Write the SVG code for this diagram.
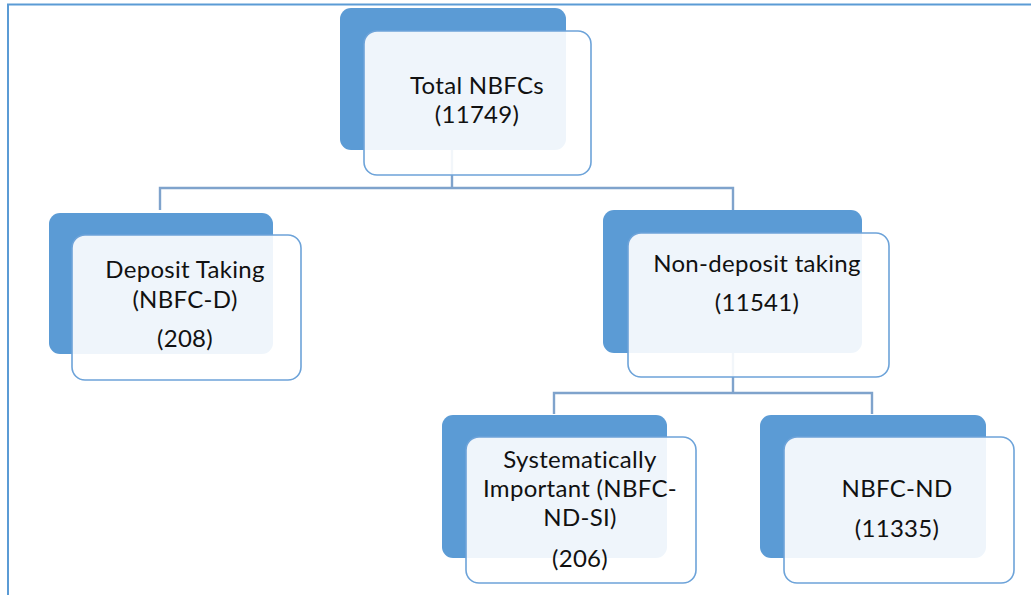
<svg xmlns="http://www.w3.org/2000/svg" width="1031" height="595" viewBox="0 0 1031 595">
  <style>
    .frame { fill: none; stroke: #5B9BD5; stroke-width: 2; }
    .conn { fill: none; stroke: #7FA3CC; stroke-width: 2.4; }
    .back { fill: #5B9BD5; }
    .front { fill: #FFFFFF; fill-opacity: 0.9; stroke: #6DA3D9; stroke-width: 1.6; }
    .lbl { font-family: "Lato", "Liberation Sans", sans-serif; font-size: 24px; letter-spacing: 0.3px; fill: #111111; text-anchor: middle; }
  </style>
  <rect width="1031" height="595" fill="#FFFFFF"/>
  <path class="frame" d="M8,596 V4.5 H1032"/>
  <g id="connectors">
    <path class="conn" d="M452,150 V188 M160,210 V188 H733 V210"/>
    <path class="conn" d="M733,353 V393 M554,414 V393 H872 V414"/>
  </g>
  <g id="total">
    <rect class="back" x="340" y="8" width="226" height="142" rx="11"/>
    <rect class="front" x="364" y="31" width="227" height="144" rx="13"/>
    <text class="lbl" x="477" y="94">Total NBFCs</text>
    <text class="lbl" x="477" y="123">(11749)</text>
  </g>
  <g id="deposit">
    <rect class="back" x="49" y="213" width="224" height="141" rx="11"/>
    <rect class="front" x="72" y="235" width="229" height="145" rx="13"/>
    <text class="lbl" x="185" y="278">Deposit Taking</text>
    <text class="lbl" x="185" y="308">(NBFC-D)</text>
    <text class="lbl" x="185" y="347">(208)</text>
  </g>
  <g id="nondeposit">
    <rect class="back" x="603" y="210" width="259" height="143" rx="11"/>
    <rect class="front" x="628" y="233" width="261" height="144" rx="13"/>
    <text class="lbl" x="757" y="272">Non-deposit taking</text>
    <text class="lbl" x="757" y="311">(11541)</text>
  </g>
  <g id="si">
    <rect class="back" x="442" y="415" width="225" height="143" rx="11"/>
    <rect class="front" x="466" y="437" width="230" height="146" rx="13"/>
    <text class="lbl" x="580" y="468">Systematically</text>
    <text class="lbl" x="580" y="497">Important (NBFC-</text>
    <text class="lbl" x="580" y="526">ND-SI)</text>
    <text class="lbl" x="580" y="567">(206)</text>
  </g>
  <g id="nd">
    <rect class="back" x="760" y="415" width="226" height="143" rx="11"/>
    <rect class="front" x="784" y="437" width="230" height="146" rx="13"/>
    <text class="lbl" x="897" y="497">NBFC-ND</text>
    <text class="lbl" x="897" y="537">(11335)</text>
  </g>
</svg>
